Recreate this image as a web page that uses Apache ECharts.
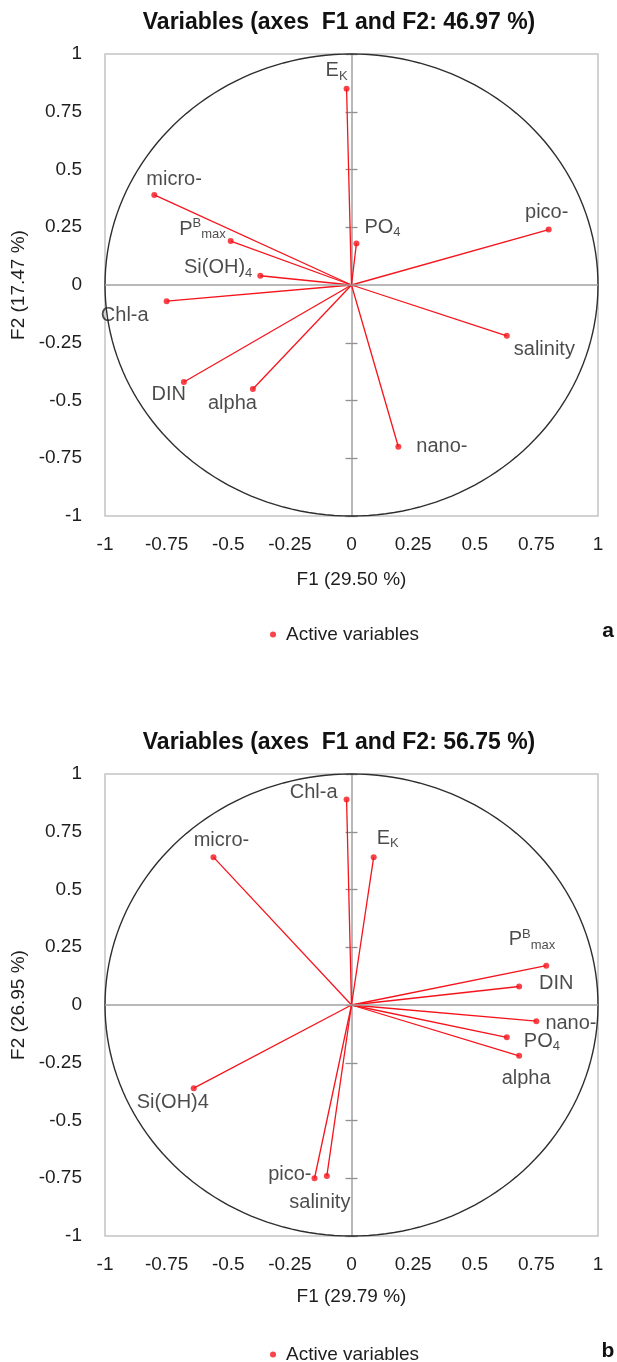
<!DOCTYPE html>
<html>
<head>
<meta charset="utf-8">
<script src="https://cdn.jsdelivr.net/npm/echarts@6/dist/echarts.min.js"></script>
<style>
  html, body { margin: 0; padding: 0; background: #fff; }
  #chartA { width: 617px; height: 720px; }
  #chartB { width: 617px; height: 642px; }
</style>
</head>
<body>
<div id="chartA"></div>
<div id="chartB"></div>
<script>
// panel a
const namesA = ['EK', 'PO4', 'micro-', 'Pmax', 'Si(OH)4', 'pico-', 'Chl-a', 'DIN', 'alpha', 'salinity', 'nano-']
const f1A = [-0.02, 0.02, -0.80, -0.49, -0.37, 0.80, -0.75, -0.68, -0.40, 0.63, 0.19]
const f2A = [0.85, 0.18, 0.39, 0.19, 0.04, 0.24, -0.07, -0.42, -0.45, -0.22, -0.70]

// panel b
const namesB = ['Chl-a', 'EK', 'micro-', 'Pmax', 'DIN', 'nano-', 'PO4', 'alpha', 'Si(OH)4', 'pico-', 'salinity']
const f1B = [-0.02, 0.09, -0.56, 0.79, 0.68, 0.75, 0.63, 0.68, -0.64, -0.15, -0.10]
const f2B = [0.89, 0.64, 0.64, 0.17, 0.08, -0.07, -0.14, -0.22, -0.36, -0.75, -0.74]

// label text (rich) and placement: [align, dx, dy]
const richA = {
  'EK': 'E{sub|K}', 'PO4': 'PO{sub|4}', 'Pmax': 'P{sup|B}{sub|max}',
  'Si(OH)4': 'Si(OH){sub|4}'
}
const richB = {
  'EK': 'E{sub|K}', 'PO4': 'PO{sub|4}', 'Pmax': 'P{sup|B}{sub|max}'
}
const placeA = {
  'EK': ['center', -10, -18], 'PO4': ['left', 8, -16], 'micro-': ['left', -8, -15],
  'Pmax': ['right', -5, -12], 'Si(OH)4': ['right', -8, -8], 'pico-': ['center', -2, -17],
  'Chl-a': ['right', -18, 14], 'DIN': ['right', 2, 12], 'alpha': ['right', 4, 15],
  'salinity': ['left', 7, 14], 'nano-': ['left', 18, 0]
}
const placeB = {
  'Chl-a': ['right', -9, -7], 'EK': ['left', 3, -19], 'micro-': ['center', 8, -17],
  'Pmax': ['right', 9, -26], 'DIN': ['left', 20, -3], 'nano-': ['left', 9, 2],
  'PO4': ['left', 17, 4], 'alpha': ['center', 7, 23], 'Si(OH)4': ['center', -21, 14],
  'pico-': ['right', -3, -4], 'salinity': ['center', -7, 27]
}

const FONT = 'Liberation Sans, Arial, sans-serif'
const RED = '#f5141c'
const TXT = '#1e1e1e'

function circleSeries() {
  return {
    type: 'custom', silent: true, clip: false, z: 1,
    data: [[0, 0]],
    renderItem(params, api) {
      const pts = []
      for (let a = 0; a <= 360; a += 2) {
        const r = a * Math.PI / 180
        pts.push(api.coord([Math.cos(r), Math.sin(r)]))
      }
      return { type: 'polyline', shape: { points: pts }, style: { stroke: '#2e2e2e', fill: null, lineWidth: 1.4 } }
    }
  }
}

function buildOption(cfg) {
  const { names, f1, f2, place, rich, title, xName, yName, xNameGap, letter } = cfg
  const hidden = { show: false }
  return {
    animation: false,
    textStyle: { fontFamily: FONT },
    graphic: [
      { type: 'text', x: 339, y: 23, style: { text: title, textAlign: 'center', textVerticalAlign: 'middle', font: 'bold 23px ' + FONT, fill: '#111' } },
      { type: 'text', x: 608, y: 631, style: { text: letter, textAlign: 'center', textVerticalAlign: 'middle', font: 'bold 21px ' + FONT, fill: '#111' } }
    ],
    grid: { left: 105, top: 54, width: 493, height: 462, show: true, borderColor: '#c4c4c4', borderWidth: 1.5 },
    legend: {
      data: ['Active variables'], left: 265, top: 620, icon: 'circle',
      itemWidth: 16, itemHeight: 6,
      textStyle: { fontSize: 19, color: TXT, fontFamily: FONT }
    },
    xAxis: {
      type: 'value', min: -1, max: 1, interval: 0.25,
      name: xName, nameLocation: 'middle', nameGap: xNameGap,
      nameTextStyle: { fontSize: 19, color: TXT },
      axisLine: { show: false, onZero: false }, axisTick: hidden, splitLine: hidden,
      axisLabel: { fontSize: 19, color: TXT, margin: 19, formatter: v => String(v) }
    },
    yAxis: [
      {
        type: 'value', min: -1, max: 1, interval: 0.25,
        name: yName, nameLocation: 'middle', nameGap: 72,
        nameTextStyle: { fontSize: 19, color: TXT },
        axisLine: { show: false, onZero: false }, axisTick: hidden, splitLine: hidden,
        axisLabel: { fontSize: 19, color: TXT, margin: 23, formatter: v => String(v) }
      },
      {
        type: 'value', min: -1, max: 1, interval: 0.25,
        axisLine: { show: true, onZero: true, onZeroAxisIndex: 0, lineStyle: { color: '#a0a0a0', width: 1.5 } },
        axisTick: { show: true, length: 6, lineStyle: { color: '#909090', width: 1.3 } },
        axisLabel: hidden, splitLine: hidden
      },
      {
        type: 'value', min: -1, max: 1, interval: 0.25,
        axisLine: { show: false, onZero: true, onZeroAxisIndex: 0 },
        axisTick: { show: true, inside: true, length: 6, lineStyle: { color: '#909090', width: 1.3 } },
        axisLabel: hidden, splitLine: hidden
      }
    ],
    series: [
      circleSeries(),
      {
        type: 'lines', coordinateSystem: 'cartesian2d', z: 3, silent: true,
        lineStyle: { color: RED, width: 1.3, opacity: 1 },
        data: names.map((n, i) => ({ coords: [[0, 0], [f1[i], f2[i]]] })),
        markLine: {
          silent: true, symbol: 'none', label: hidden,
          lineStyle: { color: '#a0a0a0', width: 1.5, type: 'solid' },
          data: [{ yAxis: 0 }]
        }
      },
      {
        name: 'Active variables', type: 'scatter', z: 4, symbolSize: 6,
        itemStyle: { color: RED },
        data: names.map((n, i) => {
          const p = place[n]
          return {
            name: n, value: [f1[i], f2[i]],
            label: {
              show: true, position: 'inside', formatter: rich[n] || n,
              align: p[0], verticalAlign: 'middle', offset: [p[1], p[2]],
              fontSize: 20, lineHeight: 24, color: TXT, fontFamily: FONT,
              rich: {
                sub: { fontSize: 13, lineHeight: 13, verticalAlign: 'bottom', color: TXT, fontFamily: FONT },
                sup: { fontSize: 13, lineHeight: 13, verticalAlign: 'top', color: TXT, fontFamily: FONT }
              }
            }
          }
        })
      }
    ]
  }
}

const chartA = echarts.init(document.getElementById('chartA'))
chartA.setOption(buildOption({
  names: namesA, f1: f1A, f2: f2A, place: placeA, rich: richA,
  title: 'Variables (axes  F1 and F2: 46.97 %)',
  xName: 'F1 (29.50 %)', yName: 'F2 (17.47 %)', xNameGap: 54, letter: 'a'
}))

const chartB = echarts.init(document.getElementById('chartB'))
chartB.setOption(buildOption({
  names: namesB, f1: f1B, f2: f2B, place: placeB, rich: richB,
  title: 'Variables (axes  F1 and F2: 56.75 %)',
  xName: 'F1 (29.79 %)', yName: 'F2 (26.95 %)', xNameGap: 51, letter: 'b'
}))
</script>
</body>
</html>
